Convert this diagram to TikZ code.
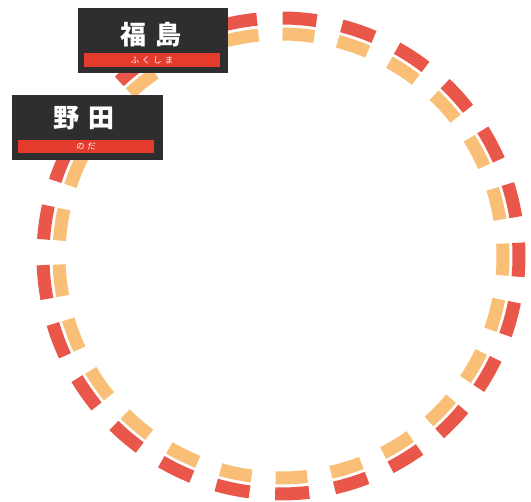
\documentclass[tikz,border=0pt]{standalone}
\usepackage{fontspec}
\newfontfamily\jp{Noto Sans CJK JP}
\definecolor{dashred}{HTML}{E8574A}
\definecolor{dashorange}{HTML}{F9BF77}
\definecolor{board}{HTML}{2E2E2E}
\definecolor{barred}{HTML}{E53A2E}
\tikzset{
  dashseg/.style={line width=13pt},
  boardbox/.style={fill=board, draw=none, inner sep=0pt, rectangle},
  barbox/.style={fill=barred, draw=none, inner sep=0pt, rectangle},
  bigtext/.style={text=white, font=\jp\bfseries\fontsize{26}{28}\selectfont, inner sep=0pt},
  smalltext/.style={text=white, font=\jp\fontsize{8.5}{9}\selectfont, inner sep=0pt}
}
\begin{document}
\begin{tikzpicture}[x=1pt,y=1pt]
\useasboundingbox (0,0) rectangle (531,502);
\coordinate (c) at (281,246);
\foreach \k in {0,...,24}{
  \pgfmathsetmacro\a{-0.9+14.4*\k}
  \pgfmathsetmacro\s{\a-4.1}
  \pgfmathsetmacro\e{\a+4.1}
  \draw[dashseg, dashred] ([shift={(\s:238)}]c) arc[start angle=\s, end angle=\e, radius=238];
  \draw[dashseg, dashorange] ([shift={(\s:222)}]c) arc[start angle=\s, end angle=\e, radius=222];
}
% sign 1
\node[boardbox, minimum width=150, minimum height=65] (sign1) at (153,461.5) {};
\node[barbox, minimum width=136, minimum height=14] (bar1) at (152,442) {};
\node[bigtext] (t1) at (151,467) {福\hspace{10pt}島};
\node[smalltext] (r1) at (bar1) {ふ\hspace{3pt}く\hspace{3pt}し\hspace{3pt}ま};
% sign 2
\node[boardbox, minimum width=151, minimum height=65] (sign2) at (87.5,374.5) {};
\node[barbox, minimum width=136, minimum height=13] (bar2) at (86,355.5) {};
\node[bigtext] (t2) at (84,383.5) {野\hspace{10pt}田};
\node[smalltext] (r2) at (bar2) {の\hspace{3pt}だ};
\end{tikzpicture}
\end{document}
